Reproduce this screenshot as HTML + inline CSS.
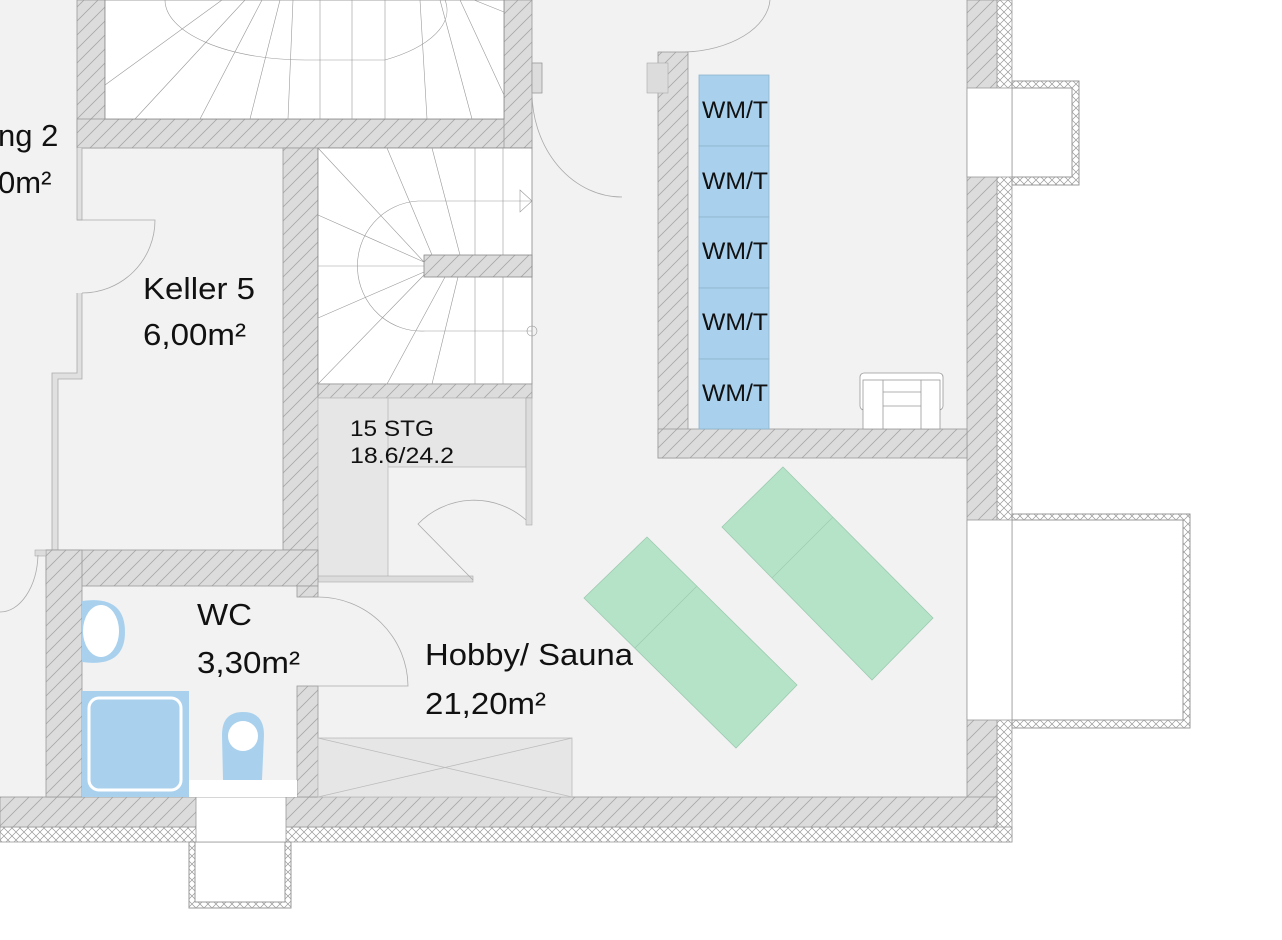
<!DOCTYPE html>
<html><head><meta charset="utf-8"><style>
html,body{margin:0;padding:0;background:#fff;}
svg{display:block;font-family:"Liberation Sans",sans-serif;}
</style></head><body>
<svg width="1282" height="940" viewBox="0 0 1282 940" xmlns="http://www.w3.org/2000/svg">
<defs>
<pattern id="h" width="14" height="14" patternUnits="userSpaceOnUse">
<rect width="14" height="14" fill="#dcdcdc"/>
<path d="M-2,16 L16,-2 M-9,9 L9,-9 M5,23 L23,5" stroke="#a8a8a8" stroke-width="0.8"/>
</pattern>
<pattern id="x" width="8" height="8" patternUnits="userSpaceOnUse">
<rect width="8" height="8" fill="#fff"/>
<path d="M0,0 L8,8 M8,0 L0,8" stroke="#999" stroke-width="0.7"/>
</pattern>
</defs>
<rect x="0" y="0" width="1012" height="842" fill="#f2f2f2"/>
<rect x="997" y="0" width="15" height="842" fill="url(#x)" stroke="#999" stroke-width="0.8"/>
<rect x="0" y="827" width="1012" height="15" fill="url(#x)" stroke="#999" stroke-width="0.8"/>
<rect x="967" y="0" width="30" height="827" fill="url(#h)" stroke="#999" stroke-width="0.8"/>
<rect x="0" y="797" width="997" height="30" fill="url(#h)" stroke="#999" stroke-width="0.8"/>
<rect x="1012" y="81" width="67" height="104" fill="url(#x)" stroke="#999"/>
<rect x="1012" y="88" width="60" height="89" fill="#fff" stroke="#999"/>
<rect x="967" y="88" width="45" height="89" fill="#fff" stroke="#999" stroke-width="0.8"/>
<rect x="1012" y="514" width="178" height="214" fill="url(#x)" stroke="#999"/>
<rect x="1012" y="520" width="171" height="200" fill="#fff" stroke="#999"/>
<rect x="967" y="520" width="45" height="200" fill="#fff" stroke="#999" stroke-width="0.8"/>
<rect x="189" y="842" width="102" height="66" fill="url(#x)" stroke="#999"/>
<rect x="195" y="842" width="90" height="60" fill="#fff" stroke="#999"/>
<rect x="196" y="797" width="90" height="45" fill="#fff" stroke="#999" stroke-width="0.8"/>
<rect x="77" y="0" width="28" height="148" fill="url(#h)" stroke="#999" stroke-width="0.8"/>
<rect x="77" y="119" width="455" height="29" fill="url(#h)" stroke="#999" stroke-width="0.8"/>
<rect x="504" y="0" width="28" height="148" fill="url(#h)" stroke="#999" stroke-width="0.8"/>
<rect x="532" y="63" width="10" height="30" fill="#dcdcdc" stroke="#999" stroke-width="0.8"/>
<rect x="105" y="0" width="399" height="119" fill="#fff" stroke="#888" stroke-width="0.8"/>
<g stroke="#999" stroke-width="0.6" fill="none">
<path d="M165,0 A140,60 0 0 0 305,60 L385,60 A140,60 0 0 0 445,0"/>
<path d="M222,0 L105,85 M245,0 L135,119 M262,0 L200,119 M280,0 L250,119 M293,0 L288,119 M320,0 L320,119 M352,0 L352,119 M385,0 L385,119 M420,0 L427,119 M440,0 L472,119 M460,0 L504,95 M474,0 L504,12"/>
</g>
<rect x="283" y="148" width="35" height="402" fill="url(#h)" stroke="#999" stroke-width="0.8"/>
<rect x="318" y="148" width="214" height="236" fill="#fff" stroke="#888" stroke-width="0.8"/>
<g stroke="#999" stroke-width="0.6" fill="none">
<path d="M425,201 L418,201 A64,65 0 0 0 425,331 L532,331 M425,201 L532,201"/>
<path d="M475,148 L475,384 M503,148 L503,384"/>
<path d="M424,262 L318,148 M424,262 L318,215 M424,266 L318,266 M424,272 L318,318 M424,275 L318,384 M432,255 L387,148 M460,255 L432,148 M445,277 L387,384 M458,277 L432,384"/>
<path d="M520,190 L532,201 L520,212 Z"/>
<circle cx="532" cy="331" r="5"/>
</g>
<rect x="424" y="255" width="108" height="22" fill="url(#h)" stroke="#888" stroke-width="0.8"/>
<rect x="318" y="384" width="214" height="14" fill="url(#h)" stroke="#999" stroke-width="0.8"/>
<rect x="318" y="398" width="208" height="69" fill="#e6e6e6" stroke="#bbb" stroke-width="0.8"/>
<rect x="318" y="398" width="70" height="180" fill="#e6e6e6" stroke="#bbb" stroke-width="0.8"/>
<rect x="526" y="398" width="6" height="127" fill="#dcdcdc" stroke="#aaa" stroke-width="0.6"/>
<rect x="318" y="576" width="155" height="6" fill="#dcdcdc" stroke="#aaa" stroke-width="0.6"/>
<path d="M473,580 L418,524 A78,78 0 0 1 526,520" fill="none" stroke="#aaa" stroke-width="0.8"/>
<path d="M77,148 L77,220 L82,220 L82,148 M77,293 L77,373 L52,373 L52,550 L58,550 L58,379 L82,379 L82,293" fill="#e0e0e0" stroke="#aaa" stroke-width="0.8"/>
<path d="M77,220 L155,220 A73,73 0 0 1 82,293" fill="none" stroke="#aaa" stroke-width="0.8"/>
<path d="M532,93 A90,105 0 0 0 622,197" fill="none" stroke="#aaa" stroke-width="0.8"/>
<path d="M685,52 A90,55 0 0 0 770,0" fill="none" stroke="#aaa" stroke-width="0.8"/>
<rect x="46" y="550" width="272" height="36" fill="url(#h)" stroke="#999" stroke-width="0.8"/>
<rect x="46" y="550" width="36" height="247" fill="url(#h)" stroke="#999" stroke-width="0.8"/>
<rect x="297" y="586" width="21" height="11" fill="url(#h)" stroke="#999" stroke-width="0.8"/>
<rect x="297" y="686" width="21" height="111" fill="url(#h)" stroke="#999" stroke-width="0.8"/>
<rect x="35" y="550" width="11" height="6" fill="#dcdcdc" stroke="#aaa" stroke-width="0.6"/>
<path d="M0,612 A38,60 0 0 0 38,555" fill="none" stroke="#aaa" stroke-width="0.8"/>
<path d="M318,597 A90,90 0 0 1 408,686 L318,686" fill="none" stroke="#aaa" stroke-width="0.8"/>
<rect x="82" y="691" width="107" height="106" fill="#a9d1ee"/>
<rect x="89" y="698" width="92" height="92" rx="10" fill="none" stroke="#fff" stroke-width="3"/>
<path d="M82,601 Q125,595 125,632 Q125,668 82,662 Z" fill="#a9d1ee"/>
<ellipse cx="101" cy="631" rx="18" ry="26" fill="#fff"/>
<path d="M223,780 L222,735 Q222,712 243,712 Q264,712 264,735 L262,780 Z" fill="#a9d1ee"/>
<circle cx="243" cy="736" r="15" fill="#fff"/>
<rect x="189" y="780" width="108" height="17" fill="#fff"/>
<rect x="318" y="738" width="254" height="59" fill="#e6e6e6" stroke="#bbb" stroke-width="0.8"/>
<path d="M318,738 L572,797 M318,797 L572,738" stroke="#bbb" stroke-width="0.8"/>
<rect x="658" y="52" width="30" height="406" fill="url(#h)" stroke="#999" stroke-width="0.8"/>
<rect x="647" y="63" width="21" height="30" fill="#dcdcdc" stroke="#aaa" stroke-width="0.6"/>
<rect x="658" y="429" width="309" height="29" fill="url(#h)" stroke="#999" stroke-width="0.8"/>
<g fill="#a9d1ee" stroke="#8fb3cc" stroke-width="0.8">
<rect x="699" y="75" width="70" height="71"/><rect x="699" y="146" width="70" height="71"/><rect x="699" y="217" width="70" height="71"/><rect x="699" y="288" width="70" height="71"/><rect x="699" y="359" width="70" height="70"/>
</g>
<g font-size="24" fill="#111">
<text x="702" y="118" textLength="66" lengthAdjust="spacingAndGlyphs">WM/T</text><text x="702" y="189" textLength="66" lengthAdjust="spacingAndGlyphs">WM/T</text><text x="702" y="259" textLength="66" lengthAdjust="spacingAndGlyphs">WM/T</text><text x="702" y="330" textLength="66" lengthAdjust="spacingAndGlyphs">WM/T</text><text x="702" y="401" textLength="66" lengthAdjust="spacingAndGlyphs">WM/T</text>
</g>
<g fill="#fff" stroke="#999" stroke-width="0.8">
<rect x="860" y="373" width="83" height="37" rx="4"/>
<rect x="863" y="380" width="77" height="49"/>
<path d="M883,380 L883,429 M921,380 L921,429 M883,392 L921,392 M883,406 L921,406"/>
</g>
<g fill="#b5e3c8" stroke="#9ccbb0" stroke-width="0.8">
<polygon points="647,537 797,685 736,748 584,598"/>
<polygon points="783,467 933,618 872,680 722,527"/>
<path d="M697,586 L635,648 M833,517 L772,578" fill="none" stroke="#a0cdb2"/>
</g>
<g font-size="31" fill="#111">
<text x="-2" y="146">ng 2</text>
<text x="-2" y="193">0m²</text>
<text x="143" y="299" textLength="112" lengthAdjust="spacingAndGlyphs">Keller 5</text>
<text x="143" y="345" textLength="103" lengthAdjust="spacingAndGlyphs">6,00m²</text>
<text x="197" y="625" textLength="55" lengthAdjust="spacingAndGlyphs">WC</text>
<text x="197" y="673" textLength="103" lengthAdjust="spacingAndGlyphs">3,30m²</text>
<text x="425" y="665" textLength="208" lengthAdjust="spacingAndGlyphs">Hobby/ Sauna</text>
<text x="425" y="714" textLength="121" lengthAdjust="spacingAndGlyphs">21,20m²</text>
</g>
<g font-size="22" fill="#111">
<text x="350" y="436" textLength="84" lengthAdjust="spacingAndGlyphs">15 STG</text>
<text x="350" y="463" textLength="104" lengthAdjust="spacingAndGlyphs">18.6/24.2</text>
</g>
</svg>
</body></html>
